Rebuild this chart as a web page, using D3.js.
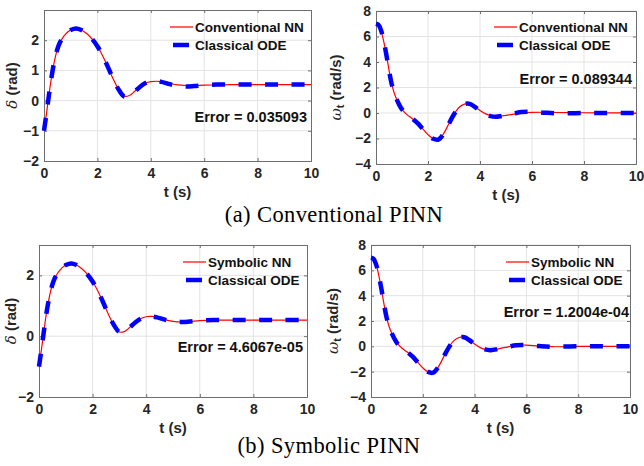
<!DOCTYPE html>
<html>
<head>
<meta charset="utf-8">
<script src="https://cdn.jsdelivr.net/npm/d3@7"></script>
<style>
  body { margin: 0; background: #fff; }
  svg { display: block; }
  .tick text { font-family: "Liberation Sans", Arial, sans-serif; font-weight: bold; fill: #262626; }
</style>
</head>
<body>
<div id="chart"></div>
<script>

// time samples (s)
var tGrid = [0, 0.1, 0.2, 0.3, 0.4, 0.5, 0.6, 0.7, 0.8, 0.9, 1.0, 1.2, 1.4, 1.6, 1.8, 2.0,
             2.2, 2.4, 2.6, 2.8, 3.0, 3.2, 3.4, 3.6, 3.8, 4.0, 4.2, 4.4, 4.6, 4.8, 5.0,
             5.3, 5.6, 6.0, 6.5, 7.0, 8.0, 9.0, 10.0];

// rotor angle delta (rad)
var deltaODE    = [-1.00, -0.38, 0.28, 0.88, 1.35, 1.70, 1.93, 2.08, 2.19, 2.28, 2.34, 2.39, 2.34, 2.22, 2.04, 1.80,
                   1.48, 1.10, 0.70, 0.36, 0.14, 0.16, 0.30, 0.46, 0.58, 0.64, 0.65, 0.62, 0.57, 0.52, 0.49,
                   0.47, 0.48, 0.51, 0.53, 0.53, 0.53, 0.53, 0.53];
var deltaConvNN = [-1.00, -0.38, 0.28, 0.88, 1.35, 1.70, 1.93, 2.08, 2.19, 2.28, 2.34, 2.39, 2.34, 2.22, 2.04, 1.80,
                   1.48, 1.10, 0.70, 0.36, 0.15, 0.17, 0.31, 0.47, 0.58, 0.63, 0.64, 0.63, 0.59, 0.55, 0.52,
                   0.50, 0.50, 0.51, 0.52, 0.53, 0.53, 0.53, 0.53];
var deltaSymNN  = [-1.00, -0.38, 0.28, 0.88, 1.35, 1.70, 1.93, 2.08, 2.19, 2.28, 2.34, 2.39, 2.34, 2.22, 2.04, 1.80,
                   1.48, 1.10, 0.70, 0.36, 0.14, 0.16, 0.30, 0.46, 0.58, 0.64, 0.65, 0.62, 0.57, 0.52, 0.49,
                   0.47, 0.48, 0.51, 0.53, 0.53, 0.53, 0.53, 0.53];

// speed deviation omega_t (rad/s)
var omegaODE    = [7.00, 6.90, 6.45, 5.60, 4.55, 3.35, 2.30, 1.55, 1.05, 0.62, 0.28, -0.15, -0.45, -0.80, -1.25, -1.70,
                   -2.02, -2.08, -1.62, -0.85, -0.10, 0.45, 0.70, 0.72, 0.48, 0.18, -0.08, -0.24, -0.30, -0.25, -0.16,
                   -0.04, 0.08, 0.10, 0.02, -0.03, 0.00, 0.00, 0.00];
var omegaConvNN = [7.00, 6.88, 6.42, 5.58, 4.55, 3.37, 2.32, 1.57, 1.05, 0.62, 0.28, -0.15, -0.45, -0.80, -1.25, -1.70,
                   -2.02, -2.08, -1.62, -0.85, -0.10, 0.45, 0.70, 0.72, 0.50, 0.20, -0.05, -0.20, -0.26, -0.24, -0.18,
                   -0.09, -0.01, 0.05, 0.06, 0.04, 0.02, 0.01, -0.01];
var omegaSymNN  = [7.00, 6.90, 6.45, 5.60, 4.55, 3.35, 2.30, 1.55, 1.05, 0.62, 0.28, -0.15, -0.45, -0.80, -1.25, -1.70,
                   -2.02, -2.08, -1.62, -0.85, -0.10, 0.45, 0.70, 0.72, 0.48, 0.18, -0.08, -0.24, -0.30, -0.25, -0.16,
                   -0.04, 0.08, 0.10, 0.02, -0.03, 0.00, 0.00, 0.00];

var xTicks = [0, 2, 4, 6, 8, 10];
var deltaTicksA = [-2, -1, 0, 1, 2];
var deltaTicksB = [-2, 0, 2];
var omegaTicks = [-4, -2, 0, 2, 4, 6, 8];
var errorLabels = ["Error = 0.035093", "Error = 0.089344", "Error = 4.6067e-05", "Error = 1.2004e-04"];
var nnNames = ["Conventional NN", "Symbolic NN"];
var odeName = "Classical ODE";
var captions = ["(a) Conventional PINN", "(b) Symbolic PINN"];

var W = 644, H = 466;
var sans = '"Liberation Sans", Arial, sans-serif';

var svg = d3.select("#chart").append("svg")
  .attr("width", W)
  .attr("height", H);

var panels = [
  {l: 44,  r: 311, t: 10,  b: 161, ydom: [-2, 3], yticks: deltaTicksA, nn: deltaConvNN, ode: deltaODE, name: nnNames[0],
   kind: "delta", ylabX: 13, legX: 170, legY: 27, errX: 307, errY: 117, err: errorLabels[0]},
  {l: 376, r: 636, t: 11,  b: 164, ydom: [-4, 8], yticks: omegaTicks,  nn: omegaConvNN, ode: omegaODE, name: nnNames[0],
   kind: "omega", ylabX: 337, legX: 494, legY: 27, errX: 632, errY: 79, err: errorLabels[1]},
  {l: 39,  r: 307, t: 245, b: 397, ydom: [-2, 3], yticks: deltaTicksB, nn: deltaSymNN, ode: deltaODE, name: nnNames[1],
   kind: "delta", ylabX: 12, legX: 183, legY: 262, errX: 303, errY: 347, err: errorLabels[2]},
  {l: 371, r: 630, t: 245, b: 397, ydom: [-4, 8], yticks: omegaTicks,  nn: omegaSymNN, ode: omegaODE, name: nnNames[1],
   kind: "omega", ylabX: 334, legX: 506, legY: 262, errX: 629, errY: 312, err: errorLabels[3]}
];

panels.forEach(function(p) {
  var x = d3.scaleLinear().domain([0, 10]).range([p.l, p.r]);
  var y = d3.scaleLinear().domain(p.ydom).range([p.b, p.t]);
  var g = svg.append("g");

  // grid
  g.append("g").selectAll("line").data(xTicks.slice(1, -1)).enter().append("line")
    .attr("x1", function(d){ return x(d); }).attr("x2", function(d){ return x(d); })
    .attr("y1", p.t).attr("y2", p.b)
    .attr("stroke", "#e3e3e3").attr("stroke-width", 1);
  g.append("g").selectAll("line").data(p.yticks.filter(function(d){ return d > p.ydom[0]; })).enter().append("line")
    .attr("y1", function(d){ return y(d); }).attr("y2", function(d){ return y(d); })
    .attr("x1", p.l).attr("x2", p.r)
    .attr("stroke", "#e3e3e3").attr("stroke-width", 1);

  // axes (ticks inward)
  g.append("g").attr("transform", "translate(0," + p.b + ")")
    .call(d3.axisBottom(x).tickValues(xTicks).tickSize(-3).tickPadding(7).tickFormat(d3.format("d")));
  g.append("g").attr("transform", "translate(" + p.l + ",0)")
    .call(d3.axisLeft(y).tickValues(p.yticks).tickSize(-3).tickPadding(5).tickFormat(d3.format("d")));
  g.append("g").attr("transform", "translate(0," + p.t + ")")
    .call(d3.axisTop(x).tickValues(xTicks).tickSize(-3).tickFormat(""));
  g.append("g").attr("transform", "translate(" + p.r + ",0)")
    .call(d3.axisRight(y).tickValues(p.yticks).tickSize(-3).tickFormat(""));
  g.selectAll(".domain").attr("stroke", "#6e6e6e");
  g.selectAll(".tick line").attr("stroke", "#6e6e6e");
  g.selectAll(".tick text").attr("font-size", 14).attr("fill", "#262626");

  // curves
  var line = d3.line()
    .x(function(d){ return x(d[0]); })
    .y(function(d){ return y(d[1]); })
    .curve(d3.curveCatmullRom.alpha(0.5));
  g.append("path")
    .datum(tGrid.map(function(t, i){ return [t, p.nn[i]]; }))
    .attr("d", line).attr("fill", "none")
    .attr("stroke", "#ff0000").attr("stroke-width", 1.2);
  g.append("path")
    .datum(tGrid.map(function(t, i){ return [t, p.ode[i]]; }))
    .attr("d", line).attr("fill", "none")
    .attr("stroke", "#0000ff").attr("stroke-width", 4.5)
    .attr("stroke-dasharray", "13,13.5");

  // legend
  g.append("line").attr("x1", p.legX).attr("x2", p.legX + 23)
    .attr("y1", p.legY).attr("y2", p.legY)
    .attr("stroke", "#ff0000").attr("stroke-width", 1.2);
  g.append("line").attr("x1", p.legX + 3).attr("x2", p.legX + 19)
    .attr("y1", p.legY + 18).attr("y2", p.legY + 18)
    .attr("stroke", "#0000ff").attr("stroke-width", 4.5);
  g.selectAll("text.leg").data([p.name, odeName]).enter().append("text")
    .attr("class", "leg")
    .attr("x", p.legX + 25)
    .attr("y", function(d, i){ return p.legY + 18 * i + 5; })
    .attr("font-family", sans).attr("font-weight", "bold").attr("font-size", 13.5)
    .attr("fill", "#111")
    .text(function(d){ return d; });

  // error annotation
  g.append("text")
    .attr("x", p.errX).attr("y", p.errY + 5)
    .attr("text-anchor", "end")
    .attr("font-family", sans).attr("font-weight", "bold").attr("font-size", 14.5)
    .attr("fill", "#111")
    .text(p.err);

  // x label
  g.append("text")
    .attr("x", (p.l + p.r) / 2).attr("y", p.b + 36)
    .attr("text-anchor", "middle")
    .attr("font-family", sans).attr("font-weight", "bold").attr("font-size", 15)
    .attr("fill", "#262626")
    .text("t (s)");

  // y label
  var cy = (p.t + p.b) / 2;
  var yl = g.append("text")
    .attr("transform", "translate(" + p.ylabX + "," + cy + ") rotate(-90)")
    .attr("text-anchor", "middle")
    .attr("dominant-baseline", "middle")
    .attr("font-family", sans).attr("font-weight", "bold").attr("font-size", 15)
    .attr("fill", "#262626");
  if (p.kind == "delta") {
    yl.append("tspan").attr("font-family", '"DejaVu Serif", serif').attr("font-style", "italic")
      .attr("font-weight", "normal").text("\u03b4");
    yl.append("tspan").text(" (rad)");
  } else {
    yl.append("tspan").attr("font-family", '"DejaVu Serif", serif').attr("font-style", "italic")
      .attr("font-weight", "normal").text("\u03c9");
    yl.append("tspan").attr("font-size", 11).attr("dy", 4).text("t");
    yl.append("tspan").attr("dy", -4).text(" (rad/s)");
  }
});

// captions
svg.selectAll("text.cap").data(captions).enter().append("text")
  .attr("class", "cap")
  .attr("x", function(d, i){ return i == 0 ? 334 : 329; })
  .attr("y", function(d, i){ return i == 0 ? 222 : 453; })
  .attr("text-anchor", "middle")
  .attr("font-family", '"Liberation Serif", "Times New Roman", serif')
  .attr("font-size", 22.5)
  .attr("letter-spacing", 0.4)
  .attr("fill", "#000")
  .text(function(d){ return d; });

</script>
</body>
</html>
